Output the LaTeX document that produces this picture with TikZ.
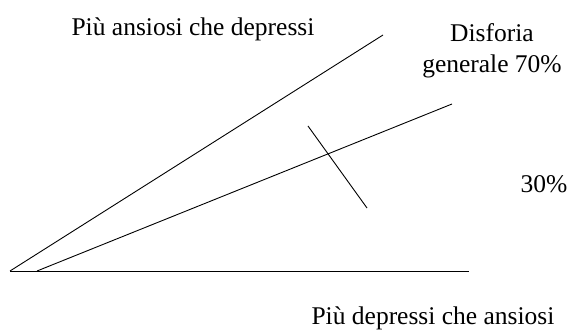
\documentclass[tikz,border=0pt]{standalone}
\usepackage{fontspec}
\setmainfont{Liberation Serif}
\begin{document}
\begin{tikzpicture}[x=1pt, y=-1pt, line width=0.9pt,
    testo/.style={inner sep=0pt, anchor=base, font=\fontsize{25.5}{31}\selectfont}]
  \useasboundingbox (0,0) rectangle (571,331);
  \coordinate (origin) at (10,271);
  \coordinate (origin2) at (37,271);
  \coordinate (ansia) at (383,35);
  \coordinate (disf) at (452,104);
  \coordinate (depr) at (469,271);
  \coordinate (cut1) at (308,126);
  \coordinate (cut2) at (367,208);

  \draw (origin) -- (ansia);
  \draw (origin2) -- (disf);
  \draw (origin) -- (depr);
  \draw (cut1) -- (cut2);

  \node[testo] (ansiosi) at (193,36) {Più ansiosi che depressi};
  \node[testo, align=center] (disforia) at (492,73) {Disforia\\generale 70\%};
  \node[testo] (trenta) at (544,193) {30\%};
  \node[testo] (depressi) at (433,325) {Più depressi che ansiosi};
\end{tikzpicture}
\end{document}
